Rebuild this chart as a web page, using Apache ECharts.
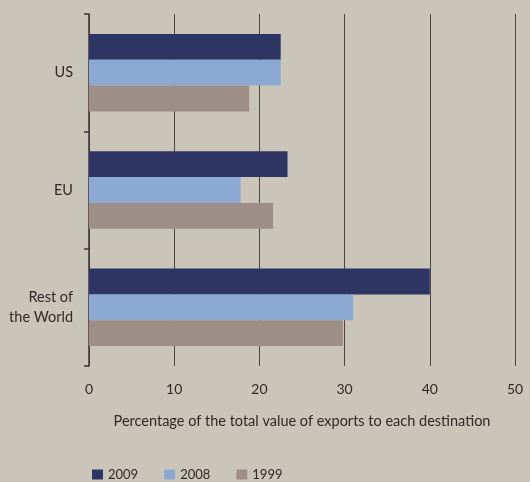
<!DOCTYPE html>
<html>
<head>
<meta charset="utf-8">
<script src="https://cdn.jsdelivr.net/npm/echarts@6/dist/echarts.min.js"></script>
<style>
  html, body { margin: 0; padding: 0; background: #cac5b9; }
  #chart { width: 530px; height: 482px; }
</style>
</head>
<body>
<div id="chart"></div>
<script>
const regions = ['US', 'EU', 'Rest of\nthe World']
const years = ['2009', '2008', '1999']
const values2009 = [22.5, 23.3, 40.0]
const values2008 = [22.5, 17.8, 31.0]
const values1999 = [18.8, 21.6, 29.8]
const colors = ['#2f3562', '#8ca9d3', '#9d8f88']

const chart = echarts.init(document.getElementById('chart'))
const textColor = '#2e2a27'
const font = 'Lato'

const seriesData = [values2009, values2008, values1999]

chart.setOption({
  backgroundColor: '#cac5b9',
  color: colors,
  legend: {
    data: years,
    left: 87,
    top: 463,
    itemWidth: 11,
    itemHeight: 10,
    itemGap: 26,
    icon: 'rect',
    textStyle: { color: textColor, fontFamily: font, fontSize: 13 }
  },
  grid: {
    left: 89,
    right: 15,
    top: 14,
    bottom: 116
  },
  xAxis: {
    type: 'value',
    min: 0,
    max: 50,
    interval: 10,
    name: 'Percentage of the total value of exports to each destination',
    nameLocation: 'middle',
    nameGap: 48,
    nameTextStyle: { color: textColor, fontFamily: font, fontSize: 14.5 },
    axisLine: { show: false },
    axisTick: { show: false },
    axisLabel: { color: textColor, fontFamily: font, fontSize: 14, margin: 16 },
    splitLine: { show: true, lineStyle: { color: '#4a4744', width: 1 } }
  },
  yAxis: {
    type: 'category',
    data: regions,
    inverse: true,
    axisLine: { show: true, lineStyle: { color: '#3a3632', width: 1.5 } },
    axisTick: { show: true, length: 5, lineStyle: { color: '#3a3632', width: 1.5 } },
    axisLabel: { color: textColor, fontFamily: font, fontSize: 14.5, margin: 16, align: 'right', lineHeight: 20 }
  },
  series: years.map((y, i) => ({
    name: y,
    type: 'bar',
    data: seriesData[i],
    barGap: '0%',
    barCategoryGap: '34%',
    itemStyle: { color: colors[i] }
  }))
})
</script>
</body>
</html>
